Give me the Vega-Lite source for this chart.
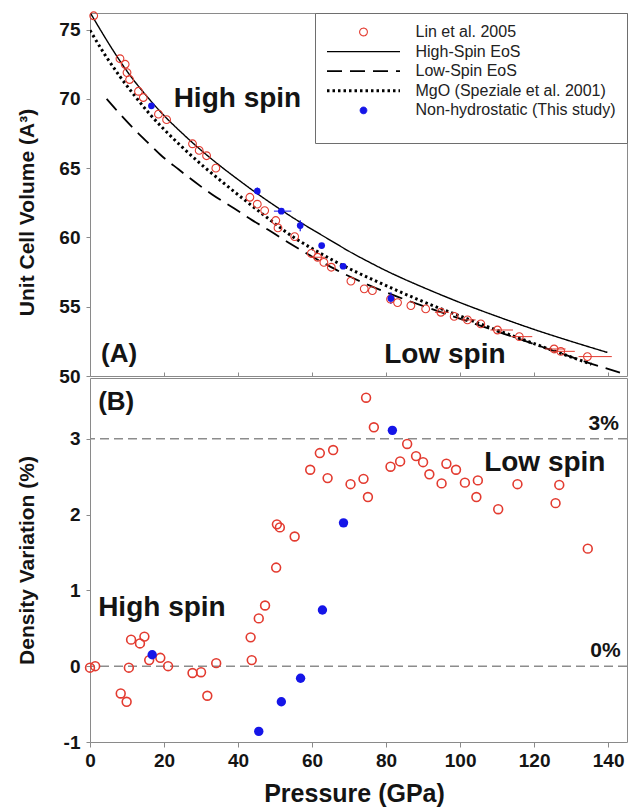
{
  "$schema": "https://vega.github.io/schema/vega-lite/v6.json",
  "background": "white",
  "padding": {"left": 15, "top": 9, "right": 2, "bottom": 0},
  "spacing": 2,
  "bounds": "flush",
  "config": {
    "view": {"stroke": "#8a8a8a", "strokeWidth": 1},
    "axis": {"domainColor": "#8a8a8a", "tickColor": "#8a8a8a", "tickWidth": 1, "grid": false, "labelFont": "Liberation Sans", "labelFontWeight": "bold", "labelFontSize": 19, "labelColor": "#141414", "titleFont": "Liberation Sans", "titleFontWeight": "bold", "titleFontSize": 21, "titleColor": "#141414", "labelFlush": false, "labelOverlap": false},
    "text": {"font": "Liberation Sans", "fontWeight": "bold", "color": "#141414"}
  },
  "datasets": {
    "curves": [
      {"P": 0, "V": 76.25, "series": "High-Spin EoS"}, {"P": 3, "V": 74.9, "series": "High-Spin EoS"}, {"P": 6, "V": 73.6, "series": "High-Spin EoS"}, {"P": 10, "V": 72.0, "series": "High-Spin EoS"}, {"P": 15, "V": 70.3, "series": "High-Spin EoS"}, {"P": 20, "V": 68.8, "series": "High-Spin EoS"}, {"P": 25, "V": 67.5, "series": "High-Spin EoS"}, {"P": 30, "V": 66.3, "series": "High-Spin EoS"}, {"P": 35, "V": 65.2, "series": "High-Spin EoS"}, {"P": 40, "V": 64.18, "series": "High-Spin EoS"}, {"P": 45, "V": 63.2, "series": "High-Spin EoS"}, {"P": 50, "V": 62.28, "series": "High-Spin EoS"}, {"P": 55, "V": 61.4, "series": "High-Spin EoS"}, {"P": 60, "V": 60.58, "series": "High-Spin EoS"}, {"P": 65, "V": 59.79, "series": "High-Spin EoS"}, {"P": 70, "V": 59.0, "series": "High-Spin EoS"}, {"P": 75, "V": 58.28, "series": "High-Spin EoS"}, {"P": 80, "V": 57.6, "series": "High-Spin EoS"}, {"P": 85, "V": 56.98, "series": "High-Spin EoS"}, {"P": 90, "V": 56.4, "series": "High-Spin EoS"}, {"P": 100, "V": 55.3, "series": "High-Spin EoS"}, {"P": 110, "V": 54.3, "series": "High-Spin EoS"}, {"P": 120, "V": 53.36, "series": "High-Spin EoS"}, {"P": 130, "V": 52.5, "series": "High-Spin EoS"}, {"P": 139.8, "V": 51.7, "series": "High-Spin EoS"},
      {"P": 4.5, "V": 70.0, "series": "Low-Spin EoS"}, {"P": 8.3, "V": 68.85, "series": "Low-Spin EoS"}, {"P": 12, "V": 67.8, "series": "Low-Spin EoS"}, {"P": 16, "V": 66.75, "series": "Low-Spin EoS"}, {"P": 19.1, "V": 65.95, "series": "Low-Spin EoS"}, {"P": 24, "V": 64.9, "series": "Low-Spin EoS"}, {"P": 28.1, "V": 64.05, "series": "Low-Spin EoS"}, {"P": 33, "V": 63.1, "series": "Low-Spin EoS"}, {"P": 38.9, "V": 62.1, "series": "Low-Spin EoS"}, {"P": 43.8, "V": 61.25, "series": "Low-Spin EoS"}, {"P": 48.8, "V": 60.45, "series": "Low-Spin EoS"}, {"P": 53.8, "V": 59.6, "series": "Low-Spin EoS"}, {"P": 58.8, "V": 58.8, "series": "Low-Spin EoS"}, {"P": 64.2, "V": 58.0, "series": "Low-Spin EoS"}, {"P": 69.6, "V": 57.25, "series": "Low-Spin EoS"}, {"P": 75, "V": 56.6, "series": "Low-Spin EoS"}, {"P": 80.4, "V": 56.0, "series": "Low-Spin EoS"}, {"P": 90, "V": 55.05, "series": "Low-Spin EoS"}, {"P": 99.3, "V": 54.2, "series": "Low-Spin EoS"}, {"P": 108, "V": 53.4, "series": "Low-Spin EoS"}, {"P": 117.3, "V": 52.55, "series": "Low-Spin EoS"}, {"P": 126, "V": 51.75, "series": "Low-Spin EoS"}, {"P": 135.3, "V": 50.9, "series": "Low-Spin EoS"}, {"P": 145.1, "V": 50.1, "series": "Low-Spin EoS"},
      {"P": 0, "V": 74.95, "series": "MgO (Speziale et al. 2001)"}, {"P": 4, "V": 73.2, "series": "MgO (Speziale et al. 2001)"}, {"P": 8, "V": 71.65, "series": "MgO (Speziale et al. 2001)"}, {"P": 12, "V": 70.25, "series": "MgO (Speziale et al. 2001)"}, {"P": 16, "V": 68.95, "series": "MgO (Speziale et al. 2001)"}, {"P": 20, "V": 67.8, "series": "MgO (Speziale et al. 2001)"}, {"P": 25, "V": 66.5, "series": "MgO (Speziale et al. 2001)"}, {"P": 30.8, "V": 65.1, "series": "MgO (Speziale et al. 2001)"}, {"P": 36, "V": 63.95, "series": "MgO (Speziale et al. 2001)"}, {"P": 42.5, "V": 62.55, "series": "MgO (Speziale et al. 2001)"}, {"P": 48, "V": 61.4, "series": "MgO (Speziale et al. 2001)"}, {"P": 55.1, "V": 60.0, "series": "MgO (Speziale et al. 2001)"}, {"P": 60, "V": 59.2, "series": "MgO (Speziale et al. 2001)"}, {"P": 66, "V": 58.3, "series": "MgO (Speziale et al. 2001)"}, {"P": 72, "V": 57.5, "series": "MgO (Speziale et al. 2001)"}, {"P": 77.7, "V": 56.8, "series": "MgO (Speziale et al. 2001)"}, {"P": 84, "V": 56.05, "series": "MgO (Speziale et al. 2001)"}, {"P": 92, "V": 55.15, "series": "MgO (Speziale et al. 2001)"}, {"P": 99.3, "V": 54.4, "series": "MgO (Speziale et al. 2001)"}, {"P": 108, "V": 53.5, "series": "MgO (Speziale et al. 2001)"}, {"P": 117.3, "V": 52.6, "series": "MgO (Speziale et al. 2001)"}, {"P": 126, "V": 51.75, "series": "MgO (Speziale et al. 2001)"}, {"P": 135.5, "V": 50.85, "series": "MgO (Speziale et al. 2001)"}
    ],
    "linA": [
      {"P": 1.0, "V": 76.0}, {"P": 8.1, "V": 72.9}, {"P": 9.5, "V": 72.5}, {"P": 10.0, "V": 71.9}, {"P": 10.7, "V": 71.4}, {"P": 13.1, "V": 70.55}, {"P": 14.4, "V": 70.1}, {"P": 18.5, "V": 68.9}, {"P": 20.7, "V": 68.5}, {"P": 27.7, "V": 66.76}, {"P": 29.5, "V": 66.28}, {"P": 31.5, "V": 65.9}, {"P": 34.0, "V": 65.0}, {"P": 43.2, "V": 62.9}, {"P": 45.2, "V": 62.4}, {"P": 47.2, "V": 61.94}, {"P": 50.2, "V": 61.22}, {"P": 50.8, "V": 60.69}, {"P": 55.3, "V": 60.06}, {"P": 59.8, "V": 58.85}, {"P": 61.5, "V": 58.57}, {"P": 63.2, "V": 58.2}, {"P": 65.2, "V": 57.85}, {"P": 70.5, "V": 56.85}, {"P": 74.1, "V": 56.29}, {"P": 76.3, "V": 56.16}, {"P": 81.2, "V": 55.55}, {"P": 83.1, "V": 55.3}, {"P": 86.7, "V": 55.08}, {"P": 90.7, "V": 54.84}, {"P": 94.8, "V": 54.6}, {"P": 98.4, "V": 54.3}, {"P": 102, "V": 54.05}, {"P": 105.6, "V": 53.76}, {"P": 110.1, "V": 53.32}, {"P": 116, "V": 52.84}, {"P": 125.4, "V": 51.95}, {"P": 127.2, "V": 51.78}, {"P": 134.4, "V": 51.4}
    ],
    "blueA": [
      {"P": 16.6, "V": 69.5}, {"P": 45.2, "V": 63.34}, {"P": 51.7, "V": 61.9}, {"P": 56.8, "V": 60.86}, {"P": 62.6, "V": 59.41}, {"P": 68.4, "V": 57.92}, {"P": 81.3, "V": 55.6}
    ],
    "errHLin": [
      {"V": 58.57, "P": 59.5, "P2": 63.5}, {"V": 54.6, "P": 93.2, "P2": 97.0}, {"V": 54.05, "P": 100.3, "P2": 104.2}, {"V": 53.32, "P": 108.2, "P2": 114.3}, {"V": 52.84, "P": 113.8, "P2": 119.5}, {"V": 51.95, "P": 123.0, "P2": 128.5}, {"V": 51.78, "P": 125.0, "P2": 131.0}, {"V": 51.4, "P": 132.0, "P2": 141.0}
    ],
    "errHBlue": [{"V": 61.9, "P": 49.7, "P2": 54.4}],
    "errVBlue": [
      {"P": 16.6, "V": 69.3, "V2": 69.7}, {"P": 45.2, "V": 63.1, "V2": 63.6}, {"P": 56.8, "V": 60.45, "V2": 61.25}, {"P": 81.3, "V": 55.2, "V2": 56.05}
    ],
    "densLin": [
      {"P": 0, "dv": -0.02}, {"P": 1.4, "dv": 0.0}, {"P": 8.3, "dv": -0.36}, {"P": 9.9, "dv": -0.47}, {"P": 10.5, "dv": -0.02}, {"P": 11.1, "dv": 0.35}, {"P": 13.5, "dv": 0.3}, {"P": 14.7, "dv": 0.39}, {"P": 16.0, "dv": 0.08}, {"P": 19.0, "dv": 0.11}, {"P": 21.1, "dv": 0.0}, {"P": 27.7, "dv": -0.09}, {"P": 30.0, "dv": -0.08}, {"P": 31.7, "dv": -0.39}, {"P": 34.1, "dv": 0.04}, {"P": 43.4, "dv": 0.38}, {"P": 43.7, "dv": 0.08}, {"P": 45.6, "dv": 0.63}, {"P": 47.3, "dv": 0.8}, {"P": 50.3, "dv": 1.3}, {"P": 50.5, "dv": 1.87}, {"P": 51.3, "dv": 1.83}, {"P": 55.3, "dv": 1.71}, {"P": 59.5, "dv": 2.59}, {"P": 62.1, "dv": 2.81}, {"P": 64.2, "dv": 2.48}, {"P": 65.7, "dv": 2.85}, {"P": 70.4, "dv": 2.4}, {"P": 73.9, "dv": 2.47}, {"P": 74.6, "dv": 3.54}, {"P": 75.1, "dv": 2.23}, {"P": 76.7, "dv": 3.15}, {"P": 81.2, "dv": 2.63}, {"P": 83.8, "dv": 2.7}, {"P": 85.7, "dv": 2.93}, {"P": 88.1, "dv": 2.77}, {"P": 90.0, "dv": 2.69}, {"P": 91.7, "dv": 2.53}, {"P": 95.0, "dv": 2.41}, {"P": 96.3, "dv": 2.67}, {"P": 98.9, "dv": 2.59}, {"P": 101.3, "dv": 2.42}, {"P": 104.4, "dv": 2.23}, {"P": 104.8, "dv": 2.45}, {"P": 110.3, "dv": 2.07}, {"P": 115.5, "dv": 2.4}, {"P": 125.8, "dv": 2.15}, {"P": 126.8, "dv": 2.39}, {"P": 134.5, "dv": 1.55}
    ],
    "densBlue": [
      {"P": 16.8, "dv": 0.15}, {"P": 45.6, "dv": -0.86}, {"P": 51.7, "dv": -0.47}, {"P": 56.9, "dv": -0.16}, {"P": 62.8, "dv": 0.74}, {"P": 68.5, "dv": 1.89}, {"P": 81.7, "dv": 3.11}
    ]
  },
  "vconcat": [
    {
      "width": 537,
      "height": 363,
      "layer": [
        {
          "data": {"name": "curves"},
          "mark": {"type": "line", "interpolate": "monotone", "clip": true},
          "encoding": {
            "x": {"field": "P", "type": "quantitative", "scale": {"domain": [0, 145.1], "nice": false, "zero": false}, "axis": {"values": [0, 20, 40, 60, 80, 100, 120, 140], "labels": false, "title": null, "tickSize": -4, "domain": false}},
            "y": {"field": "V", "type": "quantitative", "scale": {"domain": [50, 76.2], "nice": false, "zero": false}, "axis": {"values": [50, 55, 60, 65, 70, 75], "title": "Unit Cell Volume (A³)", "tickSize": 4, "labelPadding": 6, "minExtent": 31, "maxExtent": 31, "titlePadding": 22, "titleY": 199, "domain": false}},
            "color": {"field": "series", "type": "nominal", "scale": {"domain": ["Lin et al. 2005", "High-Spin EoS", "Low-Spin EoS", "MgO (Speziale et al. 2001)", "Non-hydrostatic (This study)"], "range": ["#e33b30", "#000000", "#000000", "#000000", "#1515e8"]},
              "legend": {"title": " ", "titleOrient": "bottom", "titleFontSize": 10, "titlePadding": 4, "orient": "none", "legendX": 225, "legendY": 0, "padding": 10.5, "strokeColor": "#6e6e6e", "fillColor": "white", "labelFont": "Liberation Sans", "labelFontSize": 16, "labelFontWeight": "normal", "labelColor": "#222222", "labelOffset": 14, "rowPadding": 2.6, "clipHeight": 17, "labelLimit": 400, "symbolOpacity": 1}},
            "strokeDash": {"field": "series", "type": "nominal", "scale": {"domain": ["Lin et al. 2005", "High-Spin EoS", "Low-Spin EoS", "MgO (Speziale et al. 2001)", "Non-hydrostatic (This study)"], "range": [[1, 0], [1, 0], [15, 8], [2.5, 3], [1, 0]]}},
            "strokeWidth": {"field": "series", "type": "nominal", "scale": {"type": "ordinal", "domain": ["Lin et al. 2005", "High-Spin EoS", "Low-Spin EoS", "MgO (Speziale et al. 2001)", "Non-hydrostatic (This study)"], "range": [1.1, 1.4, 1.8, 3, 1]}}
          }
        },
        {"data": {"name": "errHLin"}, "mark": {"type": "rule", "color": "#e33b30", "strokeWidth": 1}, "encoding": {"x": {"field": "P", "type": "quantitative"}, "x2": {"field": "P2"}, "y": {"field": "V", "type": "quantitative"}}},
        {"data": {"name": "errHBlue"}, "mark": {"type": "rule", "color": "#1515e8", "strokeWidth": 1}, "encoding": {"x": {"field": "P", "type": "quantitative"}, "x2": {"field": "P2"}, "y": {"field": "V", "type": "quantitative"}}},
        {"data": {"name": "errVBlue"}, "mark": {"type": "rule", "color": "#1515e8", "strokeWidth": 1.2}, "encoding": {"x": {"field": "P", "type": "quantitative"}, "y": {"field": "V", "type": "quantitative"}, "y2": {"field": "V2"}}},
        {
          "data": {"name": "linA"},
          "mark": {"type": "point", "filled": false, "strokeWidth": 1.1, "opacity": 1},
          "encoding": {
            "x": {"field": "P", "type": "quantitative"},
            "y": {"field": "V", "type": "quantitative"},
            "color": {"datum": "Lin et al. 2005", "type": "nominal", "scale": {"domain": ["Lin et al. 2005", "High-Spin EoS", "Low-Spin EoS", "MgO (Speziale et al. 2001)", "Non-hydrostatic (This study)"], "range": ["#e33b30", "#000000", "#000000", "#000000", "#1515e8"]}},
            "shape": {"datum": "Lin et al. 2005", "type": "nominal", "scale": {"domain": ["Lin et al. 2005", "High-Spin EoS", "Low-Spin EoS", "MgO (Speziale et al. 2001)", "Non-hydrostatic (This study)"], "range": ["circle", "stroke", "stroke", "stroke", "circle"]}},
            "size": {"datum": "Lin et al. 2005", "type": "nominal", "scale": {"type": "ordinal", "domain": ["Lin et al. 2005", "High-Spin EoS", "Low-Spin EoS", "MgO (Speziale et al. 2001)", "Non-hydrostatic (This study)"], "range": [60, 5329, 5329, 5329, 45]}}
          }
        },
        {
          "data": {"name": "blueA"},
          "mark": {"type": "point", "filled": true, "opacity": 1},
          "encoding": {
            "x": {"field": "P", "type": "quantitative"},
            "y": {"field": "V", "type": "quantitative"},
            "fill": {"datum": "Non-hydrostatic (This study)", "type": "nominal", "scale": {"domain": ["Lin et al. 2005", "High-Spin EoS", "Low-Spin EoS", "MgO (Speziale et al. 2001)", "Non-hydrostatic (This study)"], "range": ["transparent", "transparent", "transparent", "transparent", "#1515e8"]}},
            "shape": {"datum": "Non-hydrostatic (This study)", "type": "nominal", "scale": {"domain": ["Lin et al. 2005", "High-Spin EoS", "Low-Spin EoS", "MgO (Speziale et al. 2001)", "Non-hydrostatic (This study)"], "range": ["circle", "stroke", "stroke", "stroke", "circle"]}},
            "size": {"datum": "Non-hydrostatic (This study)", "type": "nominal", "scale": {"type": "ordinal", "domain": ["Lin et al. 2005", "High-Spin EoS", "Low-Spin EoS", "MgO (Speziale et al. 2001)", "Non-hydrostatic (This study)"], "range": [60, 5329, 5329, 5329, 45]}}
          }
        },
        {"data": {"values": [{}]}, "mark": {"type": "text", "align": "left", "baseline": "alphabetic", "fontSize": 28}, "encoding": {"x": {"datum": 22.6, "type": "quantitative"}, "y": {"datum": 69.39, "type": "quantitative"}, "text": {"value": "High spin"}}},
        {"data": {"values": [{}]}, "mark": {"type": "text", "align": "left", "baseline": "alphabetic", "fontSize": 28}, "encoding": {"x": {"datum": 79.5, "type": "quantitative"}, "y": {"datum": 50.95, "type": "quantitative"}, "text": {"value": "Low spin"}}},
        {"data": {"values": [{}]}, "mark": {"type": "text", "align": "left", "baseline": "alphabetic", "fontSize": 26}, "encoding": {"x": {"datum": 3.0, "type": "quantitative"}, "y": {"datum": 51.0, "type": "quantitative"}, "text": {"value": "(A)"}}}
      ]
    },
    {
      "width": 537,
      "height": 364,
      "layer": [
        {"data": {"values": [{}]}, "mark": {"type": "rule", "color": "#8c8c8c", "strokeWidth": 1.5, "strokeDash": [9, 5]}, "encoding": {"y": {"datum": 0, "type": "quantitative"}}},
        {"data": {"values": [{}]}, "mark": {"type": "rule", "color": "#8c8c8c", "strokeWidth": 1.5, "strokeDash": [9, 5]}, "encoding": {"y": {"datum": 3, "type": "quantitative"}}},
        {
          "data": {"name": "densLin"},
          "mark": {"type": "point", "filled": false, "color": "#e33b30", "strokeWidth": 1.6, "size": 78, "opacity": 1},
          "encoding": {
            "x": {"field": "P", "type": "quantitative", "scale": {"domain": [0, 145.1], "nice": false, "zero": false}, "axis": {"values": [0, 20, 40, 60, 80, 100, 120, 140], "title": "Pressure (GPa)", "titleFontSize": 25, "titleX": 264, "tickSize": 5, "labelPadding": 4, "titlePadding": 11, "domain": false}},
            "y": {"field": "dv", "type": "quantitative", "scale": {"domain": [-1, 3.8], "nice": false, "zero": false}, "axis": {"values": [-1, 0, 1, 2, 3], "title": "Density Variation (%)", "tickSize": 4, "labelPadding": 6, "minExtent": 31, "maxExtent": 31, "titlePadding": 22, "domain": false, "labelExpr": "datum.value < 0 ? '-' + abs(datum.value) : '' + datum.value"}}
          }
        },
        {
          "data": {"name": "densBlue"},
          "mark": {"type": "point", "filled": true, "color": "#1515e8", "size": 88, "opacity": 1},
          "encoding": {
            "x": {"field": "P", "type": "quantitative"},
            "y": {"field": "dv", "type": "quantitative"}
          }
        },
        {"data": {"values": [{}]}, "mark": {"type": "text", "align": "left", "baseline": "alphabetic", "fontSize": 26}, "encoding": {"x": {"datum": 2.2}, "y": {"datum": 3.38}, "text": {"value": "(B)"}}},
        {"data": {"values": [{}]}, "mark": {"type": "text", "align": "left", "baseline": "alphabetic", "fontSize": 28}, "encoding": {"x": {"datum": 2.2}, "y": {"datum": 0.666}, "text": {"value": "High spin"}}},
        {"data": {"values": [{}]}, "mark": {"type": "text", "align": "left", "baseline": "alphabetic", "fontSize": 28}, "encoding": {"x": {"datum": 106.5}, "y": {"datum": 2.58}, "text": {"value": "Low spin"}}},
        {"data": {"values": [{}]}, "mark": {"type": "text", "align": "right", "baseline": "alphabetic", "fontSize": 21}, "encoding": {"x": {"datum": 142.9}, "y": {"datum": 3.11}, "text": {"value": "3%"}}},
        {"data": {"values": [{}]}, "mark": {"type": "text", "align": "right", "baseline": "alphabetic", "fontSize": 21}, "encoding": {"x": {"datum": 143.4}, "y": {"datum": 0.126}, "text": {"value": "0%"}}}
      ]
    }
  ]
}
